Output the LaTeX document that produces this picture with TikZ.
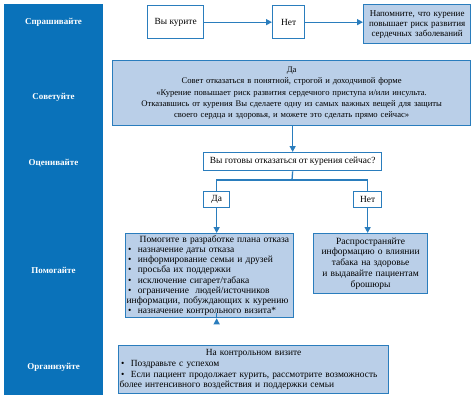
\documentclass[tikz,border=0pt]{standalone}
\usepackage{fontspec}
\setmainfont{Liberation Serif}
\usetikzlibrary{arrows.meta}
\definecolor{band}{HTML}{0A72BA}
\definecolor{edge}{HTML}{2A7DBD}
\definecolor{pale}{HTML}{BACFE8}
\tikzset{
  box/.style={draw=edge, line width=1.3pt, inner sep=0pt, anchor=north west, align=center, font=\fontsize{9.4}{10}\selectfont},
  filled/.style={box, fill=pale},
  band label/.style={text=white, font=\fontsize{9}{10}\selectfont\bfseries},
  conn/.style={draw=edge, line width=1.3pt},
  arr/.style={conn, -{Triangle[length=6pt,width=6pt]}},
}
\begin{document}
\begin{tikzpicture}[x=1pt,y=-1pt]
\useasboundingbox (0,0) rectangle (474,400);
\fill[band] (4,4) rectangle (103,395);
\node[band label] (l1) at (53.5,22) {Спрашивайте};
\node[band label] (l2) at (53.5,97) {Советуйте};
\node[band label] (l3) at (53.5,163) {Оценивайте};
\node[band label] (l4) at (53.5,270) {Помогайте};
\node[band label] (l5) at (53.5,367) {Организуйте};

\node[box, minimum width=56pt, minimum height=33pt] (smoke) at (147,5) {Вы курите};
\node[box, minimum width=32pt, minimum height=33pt] (no1) at (272,5) {Нет};
\node[filled, minimum width=107pt, minimum height=39pt, text width=105pt,
  font=\fontsize{9}{10}\selectfont] (remind) at (363,4)
  {Напомните, что курение\\ повышает риск развития\\ сердечных заболеваний};

\node[filled, minimum width=358pt, minimum height=65pt, text width=354pt,
  font=\fontsize{8.6}{11.4}\selectfont] (advise) at (112,60)
  {Да\\ Совет отказаться в понятной, строгой и доходчивой форме\\
  «Курение повышает риск развития сердечного приступа и/или инсульта.\\
  Отказавшись от курения Вы сделаете одну из самых важных вещей для защиты\\
  своего сердца и здоровья, и можете это сделать прямо сейчас»};

\node[box, minimum width=178pt, minimum height=18pt] (ready) at (203,152)
  {Вы готовы отказаться от курения сейчас?};
\node[box, minimum width=26pt, minimum height=16pt] (yes) at (203,191) {Да};
\node[box, minimum width=28pt, minimum height=16pt] (no2) at (353,191) {Нет};

\node[filled, minimum width=168pt, minimum height=84pt, text width=166pt, align=left,
  font=\fontsize{9.5}{10.2}\selectfont] (plan) at (125,233)
  {\makebox[166pt][c]{\quad Помогите в разработке плана отказа}\\
  \,• \ назначение даты отказа\\
  \,• \ информирование семьи и друзей\\
  \,• \ просьба их поддержки\\
  \,• \ исключение сигарет/табака\\
  \,• \ ограничение \ людей/источников\\
  \mbox{информации, побуждающих к курению}\\
  \,• \ назначение контрольного визита*};

\node[filled, minimum width=114pt, minimum height=60pt, text width=110pt,
  font=\fontsize{9.5}{10.9}\selectfont] (info) at (313,233)
  {Распространяйте\\ информацию о влиянии\\ табака на здоровье\\ и выдавайте пациентам\\ брошюры};

\node[filled, minimum width=270pt, minimum height=48pt, text width=268pt, align=left,
  font=\fontsize{9.4}{10.8}\selectfont] (follow) at (118,345)
  {\makebox[268pt][c]{На контрольном визите}\\
  \,• \ Поздравьте с успехом\\
  \,• \ Если пациент продолжает курить, рассмотрите возможность\\
  более интенсивного воздействия и поддержки семьи};

\draw[arr] (smoke.east) -- (no1.west);
\draw[arr] (no1.east) -- (no1.east -| remind.west);
\draw[arr] (advise.south -| ready.north) -- (ready.north);
\coordinate (split) at (292,180);
\draw[conn] (ready.south) -- (split);
\draw[conn] (yes.north) |- (split) -| (no2.north);
\draw[arr] (yes.south) -- (yes.south |- plan.north);
\draw[arr] (no2.south) -- (no2.south |- info.north);
\draw[arr] (plan.south -| yes.south) -- (plan.south -| yes.south |- follow.north);
\end{tikzpicture}
\end{document}
